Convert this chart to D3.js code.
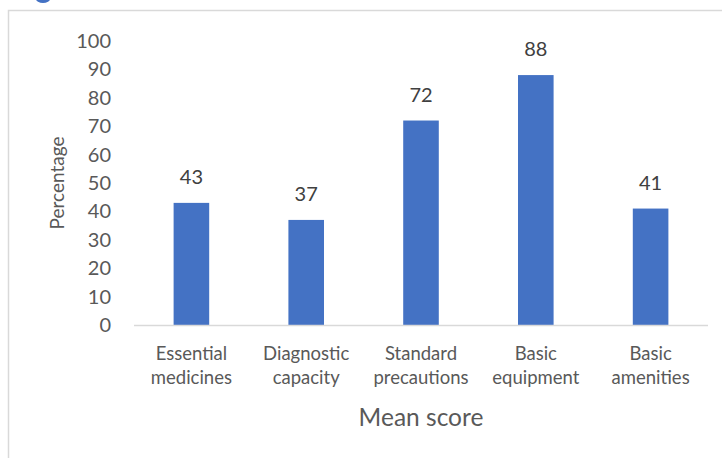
<!DOCTYPE html>
<html>
<head>
<meta charset="utf-8">
<script src="https://cdn.jsdelivr.net/npm/d3@7"></script>
<style>
  html, body { margin: 0; padding: 0; background: #fff; }
  svg { display: block; font-family: Lato, "Open Sans", sans-serif; }
</style>
</head>
<body>
<svg id="chart" width="722" height="458"></svg>
<script>
// Mean readiness scores by domain
const categories = [
  ["Essential", "medicines"],
  ["Diagnostic", "capacity"],
  ["Standard", "precautions"],
  ["Basic", "equipment"],
  ["Basic", "amenities"]
];
const values = [43, 37, 72, 88, 41];
const yTicks = [0, 10, 20, 30, 40, 50, 60, 70, 80, 90, 100];

const svg = d3.select("#chart");
const W = 722, H = 458;

// outer frame (open to the right and bottom)
svg.append("path")
  .attr("d", `M8.5,${H} V10.5 H${W}`)
  .attr("fill", "none")
  .attr("stroke", "#d9d9d9")
  .attr("stroke-width", 1.5);

// fragment of heading text above the frame
svg.append("ellipse")
  .attr("cx", 43).attr("cy", -1).attr("rx", 7).attr("ry", 4)
  .attr("fill", "#4472C4");

const plot = { left: 134, right: 708, top: 41, bottom: 325 };

const x = d3.scaleBand()
  .domain(d3.range(categories.length))
  .range([plot.left, plot.right])
  .paddingInner(0.69)
  .paddingOuter(0.345);

const y = d3.scaleLinear().domain([0, 100]).range([plot.bottom, plot.top]);

// y axis labels
const yAxis = svg.append("g")
  .attr("transform", `translate(${plot.left - 23},0)`)
  .call(d3.axisLeft(y).tickValues(yTicks).tickSize(0).tickPadding(0));
yAxis.select(".domain").remove();
yAxis.selectAll("text")
  .attr("fill", "#595959")
  .style("font-size", "20px")
  .style("font-family", "Lato, sans-serif");

// bars
svg.selectAll("rect.bar")
  .data(values)
  .join("rect")
  .attr("class", "bar")
  .attr("x", (d, i) => x(i))
  .attr("width", x.bandwidth())
  .attr("y", d => y(d))
  .attr("height", d => plot.bottom - y(d))
  .attr("fill", "#4472C4");

// baseline
svg.append("line")
  .attr("x1", plot.left).attr("x2", plot.right)
  .attr("y1", plot.bottom + 0.5).attr("y2", plot.bottom + 0.5)
  .attr("stroke", "#d9d9d9").attr("stroke-width", 1.5);

// value labels
svg.selectAll("text.val")
  .data(values)
  .join("text")
  .attr("class", "val")
  .attr("x", (d, i) => x(i) + x.bandwidth() / 2)
  .attr("y", d => y(d) - 19)
  .attr("text-anchor", "middle")
  .attr("fill", "#404040")
  .style("font-size", "20px")
  .text(d => d);

// category labels
const cat = svg.selectAll("text.cat")
  .data(categories)
  .join("text")
  .attr("class", "cat")
  .attr("text-anchor", "middle")
  .attr("fill", "#595959")
  .style("font-size", "18.5px");
cat.each(function (lines, i) {
  const t = d3.select(this);
  lines.forEach((ln, k) => {
    t.append("tspan")
      .attr("x", x(i) + x.bandwidth() / 2)
      .attr("y", 360 + k * 24)
      .text(ln);
  });
});

// axis titles
svg.append("text")
  .attr("x", (plot.left + plot.right) / 2)
  .attr("y", 426)
  .attr("text-anchor", "middle")
  .attr("fill", "#595959")
  .style("font-size", "24.5px")
  .text("Mean score");

svg.append("text")
  .attr("transform", "translate(64,183) rotate(-90)")
  .attr("text-anchor", "middle")
  .attr("fill", "#595959")
  .style("font-size", "19px")
  .text("Percentage");
</script>
</body>
</html>
